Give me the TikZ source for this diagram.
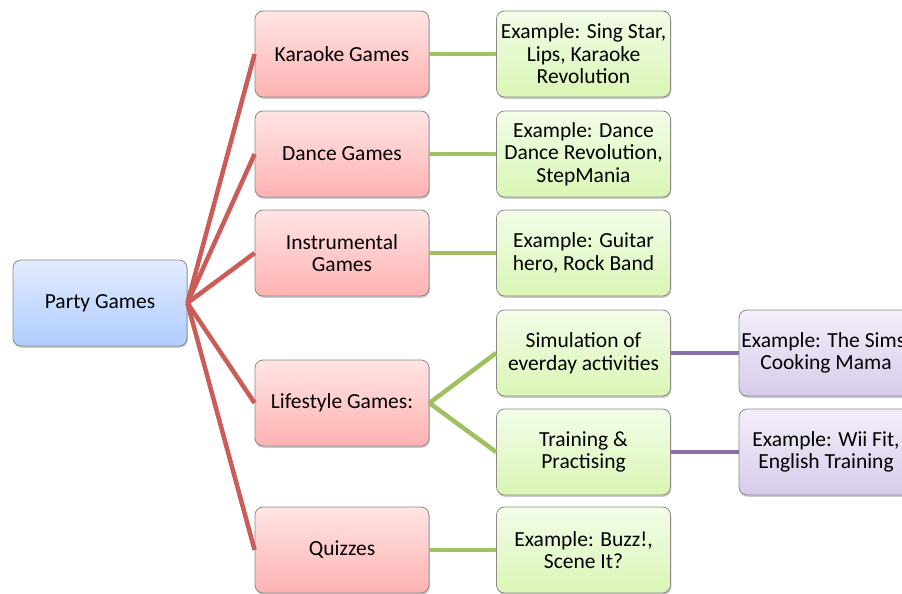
\documentclass[tikz,border=0pt]{standalone}
\usepackage{fontspec}
\setmainfont{Carlito}
\usetikzlibrary{shadows}
\definecolor{redline}{HTML}{CB5C57}
\definecolor{greenline}{HTML}{A0C062}
\definecolor{purpleline}{HTML}{8A70AA}
\definecolor{boxborder}{HTML}{8A8A8A}
\tikzset{
  box/.style={draw=boxborder, line width=0.8pt, rounded corners=8pt,
    minimum width=174pt, minimum height=86pt, inner sep=1pt, align=center,
    font=\fontsize{21.5}{22.6}\selectfont,
    drop shadow={shadow xshift=0.8pt, shadow yshift=-1.8pt, opacity=0.35, fill=black!60}},
  bluebox/.style={box, top color={rgb,255:red,226;green,236;blue,255}, bottom color={rgb,255:red,176;green,204;blue,255}},
  pinkbox/.style={box, top color={rgb,255:red,255;green,228;blue,228}, bottom color={rgb,255:red,255;green,178;blue,178}},
  greenbox/.style={box, top color={rgb,255:red,243;green,252;blue,232}, bottom color={rgb,255:red,218;green,246;blue,180}},
  purplebox/.style={box, top color={rgb,255:red,244;green,238;blue,250}, bottom color={rgb,255:red,214;green,204;blue,234}},
  redconn/.style={draw=redline, line width=4.5pt},
  greenconn/.style={draw=greenline, line width=4.5pt},
  purpleconn/.style={draw=purpleline, line width=4.5pt},
}
\begin{document}
\begin{tikzpicture}[x=1pt, y=-1pt]
\useasboundingbox (0,0) rectangle (902,594);
\node[bluebox] (pg) at (100,303) {Party Games};
\node[pinkbox] (k) at (342,54) {Karaoke Games};
\node[pinkbox] (d) at (342,154) {Dance Games};
\node[pinkbox] (i) at (342,253) {Instrumental\\Games};
\node[pinkbox] (l) at (342,403) {Lifestyle Games:};
\node[pinkbox] (q) at (342,550) {Quizzes};
\node[greenbox] (ke) at (583.5,54) {Example: Sing Star,\\Lips, Karaoke\\Revolution};
\node[greenbox] (de) at (583.5,154) {Example: Dance\\Dance Revolution,\\StepMania};
\node[greenbox] (ie) at (583.5,253) {Example: Guitar\\hero, Rock Band};
\node[greenbox] (sim) at (583.5,353) {Simulation of\\everday activities};
\node[greenbox] (tr) at (583.5,452) {Training \&\\Practising};
\node[greenbox] (qe) at (583.5,550) {Example: Buzz!,\\Scene It?};
\node[purplebox] (se) at (826,353) {Example: The Sims,\\Cooking Mama};
\node[purplebox] (te) at (826,452) {Example: Wii Fit,\\English Training};
\draw[redconn] (pg.east) -- (k.west);
\draw[redconn] (pg.east) -- (d.west);
\draw[redconn] (pg.east) -- (i.west);
\draw[redconn] (pg.east) -- (l.west);
\draw[redconn] (pg.east) -- (q.west);
\draw[greenconn] (k.east) -- (ke.west);
\draw[greenconn] (d.east) -- (de.west);
\draw[greenconn] (i.east) -- (ie.west);
\draw[greenconn] (l.east) -- (sim.west);
\draw[greenconn] (l.east) -- (tr.west);
\draw[greenconn] (q.east) -- (qe.west);
\draw[purpleconn] (sim.east) -- (se.west);
\draw[purpleconn] (tr.east) -- (te.west);
\end{tikzpicture}
\end{document}
